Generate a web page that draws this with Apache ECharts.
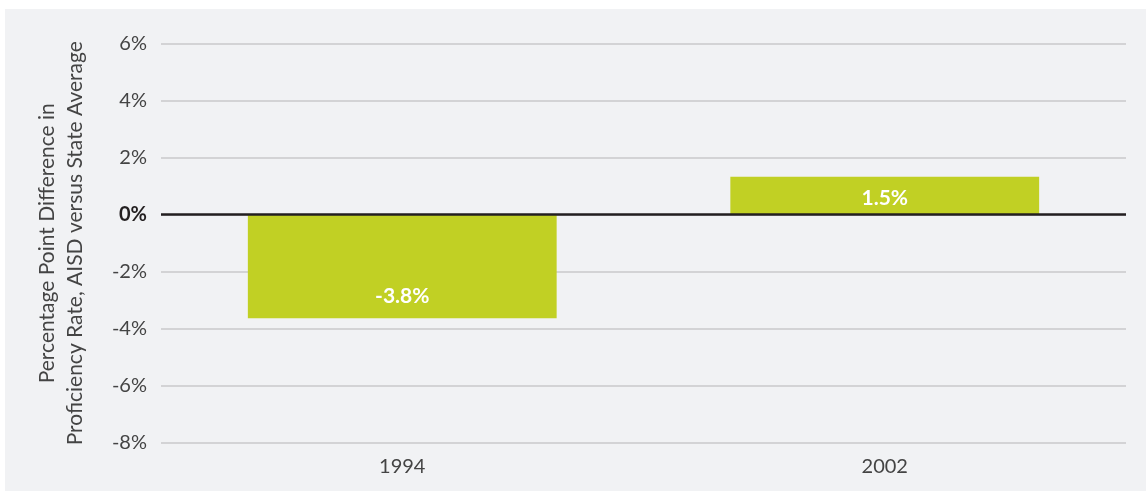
<!DOCTYPE html>
<html>
<head>
<meta charset="utf-8">
<script src="https://cdn.jsdelivr.net/npm/echarts@6/dist/echarts.min.js"></script>
<style>
  html, body { margin: 0; padding: 0; background: #ffffff; }
  #chart { position: absolute; left: 5px; top: 9px; width: 1141px; height: 482px; background: #f1f2f4; }
</style>
</head>
<body>
<div id="chart"></div>
<script>
const years = ["1994", "2002"];
const diffs = [-3.63, 1.33];
const diffLabels = ["-3.8%", "1.5%"];
const labelOffsets = [[0, 30], [0, 2]];

const chart = echarts.init(document.getElementById("chart"));
const font = "Lato, 'Open Sans', sans-serif";

chart.setOption({
  animation: false,
  backgroundColor: "#f1f2f4",
  grid: { left: 156, right: 20, top: 34.5, bottom: 48 },
  xAxis: {
    type: "category",
    data: years,
    axisLine: { show: false, onZero: false },
    axisTick: { show: false },
    axisLabel: { color: "#444", fontSize: 20, fontFamily: font, margin: 14 },
  },
  yAxis: {
    type: "value",
    min: -8,
    max: 6,
    interval: 2,
    name: "Percentage Point Difference in\nProficiency Rate, AISD versus State Average",
    nameLocation: "middle",
    nameGap: 72,
    nameTextStyle: { color: "#444", fontSize: 21, fontFamily: font, lineHeight: 28 },
    axisLine: { show: false },
    axisTick: { show: false },
    axisLabel: {
      margin: 14,
      fontSize: 20,
      fontFamily: font,
      formatter: (v) => (v === 0 ? "{zero|0%}" : v + "%"),
      color: "#444",
      rich: { zero: { fontWeight: "bold", color: "#231f20", fontSize: 20, fontFamily: font } },
    },
    splitLine: { lineStyle: { color: "#c9c9cb", width: 1.5 } },
  },
  series: [
    {
      type: "bar",
      barCategoryGap: "36%",
      data: diffs.map((v, i) => ({
        value: v,
        label: { formatter: diffLabels[i], offset: labelOffsets[i] },
      })),
      itemStyle: { color: "#c1d024" },
      label: {
        show: true,
        position: "inside",
        color: "#fff",
        fontWeight: "bold",
        fontSize: 21,
        fontFamily: font,
      },
      markLine: {
        silent: true,
        symbol: "none",
        label: { show: false },
        lineStyle: { color: "#231f20", width: 2.5, type: "solid" },
        data: [{ yAxis: 0 }],
      },
    },
  ],
});
</script>
</body>
</html>
